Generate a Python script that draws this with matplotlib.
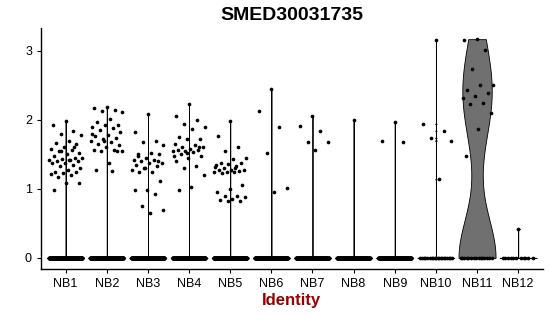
import numpy as np
import matplotlib.pyplot as plt

plt.rcParams["font.family"] = ["Liberation Sans", "DejaVu Sans"]

# ---- data ----
GENE = "SMED30031735"
IDENTS = ["NB1", "NB2", "NB3", "NB4", "NB5", "NB6",
          "NB7", "NB8", "NB9", "NB10", "NB11", "NB12"]

# number of cells with zero expression per identity
ZERO_COUNTS = [400, 400, 400, 400, 400, 300, 300, 300, 300, 20, 15, 11]

# non-zero expression values per identity
NB1 = [1.98, 1.93, 1.84, 1.80, 1.78, 1.70, 1.67, 1.65, 1.60, 1.58, 1.57, 1.55,
       1.52, 1.50, 1.48, 1.45, 1.43, 1.42, 1.42, 1.40, 1.40, 1.38, 1.37, 1.35,
       1.33, 1.30, 1.28, 1.25, 1.25, 1.23, 1.22, 1.20, 1.17, 1.08, 1.08, 0.98,
       1.60, 1.55, 1.45, 1.42]
NB2 = [2.19, 2.17, 2.15, 2.13, 2.12, 2.01, 1.97, 1.93, 1.93, 1.90, 1.88, 1.85,
       1.82, 1.78, 1.76, 1.74, 1.72, 1.70, 1.68, 1.65, 1.63, 1.60, 1.57, 1.57,
       1.55, 1.55, 1.37, 1.28, 1.55, 1.70, 1.80, 1.26]
NB3 = [2.09, 1.83, 1.70, 1.68, 1.63, 1.52, 1.50, 1.50, 1.45, 1.42, 1.42, 1.40,
       1.38, 1.37, 1.35, 1.33, 1.30, 1.27, 1.25, 1.24, 1.12, 0.98, 0.98, 0.92,
       0.75, 0.70, 0.65, 1.48, 1.40, 1.30]
NB4 = [2.23, 2.05, 2.00, 1.94, 1.90, 1.87, 1.75, 1.73, 1.72, 1.65, 1.63, 1.60,
       1.60, 1.58, 1.57, 1.56, 1.55, 1.55, 1.53, 1.50, 1.48, 1.45, 1.40, 1.33,
       1.30, 1.20, 1.03, 0.98, 1.60, 1.52, 1.47]
NB5 = [1.98, 1.77, 1.60, 1.55, 1.45, 1.43, 1.38, 1.37, 1.36, 1.35, 1.33, 1.30,
       1.28, 1.28, 1.27, 1.26, 1.25, 1.25, 1.24, 1.23, 1.05, 1.00, 0.95, 0.90,
       0.89, 0.88, 0.85, 0.84, 0.83, 0.82, 1.32, 1.30]
NB6 = [2.45, 2.13, 1.90, 1.52, 1.01, 0.96]
NB7 = [2.06, 1.91, 1.84, 1.68, 1.68, 1.57]
NB8 = [2.00]
NB9 = [1.97, 1.69, 1.68]
NB10 = [3.16, 1.94, 1.84, 1.74, 1.70, 1.14]
NB11 = [3.17, 3.16, 3.02, 2.74, 2.50, 2.50, 2.43, 2.39, 2.35, 2.31, 2.24,
        2.23, 2.10, 1.87, 1.47]
NB12 = [0.42]
NONZERO = [NB1, NB2, NB3, NB4, NB5, NB6, NB7, NB8, NB9, NB10, NB11, NB12]

VIOLIN_HALF = 0.45
JITTER = 0.4


def bw_nrd0(x):
    # R's default bandwidth rule
    hi = np.std(x, ddof=1)
    q75, q25 = np.percentile(x, [75, 25])
    lo = min(hi, (q75 - q25) / 1.34)
    if lo <= 0:
        return None
    return 0.9 * lo * len(x) ** -0.2


def violin_shape(values):
    y = np.linspace(values.min(), values.max(), 512)
    bw = bw_nrd0(values)
    if bw is None:
        # IQR collapses on the zeros -> near-zero bandwidth
        bw = (y[1] - y[0]) * 0.5
    dens = np.exp(-0.5 * ((y[:, None] - values[None, :]) / bw) ** 2).sum(axis=1)
    return y, dens / dens.max() * VIOLIN_HALF


def jitter_offsets(n, start=0.5):
    # deterministic spread across the jitter width
    frac = (np.arange(n) * 0.6180339887 + start) % 1.0
    return (2 * frac - 1) * JITTER


fig = plt.figure(figsize=(5.5, 3.16), dpi=100)
ax = fig.add_axes([0.0745, 0.149, 0.9125, 0.762])

for i, (name, vals, nz) in enumerate(zip(IDENTS, NONZERO, ZERO_COUNTS)):
    pos = i + 1
    vals = np.array(vals)
    values = np.concatenate([np.zeros(nz), vals])
    y, w = violin_shape(values)
    ax.fill_betweenx(y, pos - w, pos + w, facecolor="#707070",
                     edgecolor="black", linewidth=0.6, zorder=1)
    ax.scatter(pos + jitter_offsets(nz, 0.1 * i), np.zeros(nz),
               s=7, color="black", linewidths=0, zorder=2)
    ax.scatter(pos + jitter_offsets(len(vals)), vals,
               s=7, color="black", linewidths=0, zorder=2)

ax.set_xlim(0.4, 12.6)
ax.set_ylim(-0.16, 3.33)
ax.set_xticks(range(1, len(IDENTS) + 1))
ax.set_xticklabels(IDENTS)
ax.set_yticks([0, 1, 2, 3])
for side in ["top", "right"]:
    ax.spines[side].set_visible(False)
for side in ["left", "bottom"]:
    ax.spines[side].set_linewidth(1.0)
ax.tick_params(axis="both", labelsize=9, length=3, width=0.8, colors="black")

ax.set_title(GENE, fontsize=14, fontweight="bold", pad=6)
ax.set_xlabel("Identity", fontsize=12, fontweight="bold", color="#990000",
              labelpad=2)

fig.savefig("out.png", dpi=100)
